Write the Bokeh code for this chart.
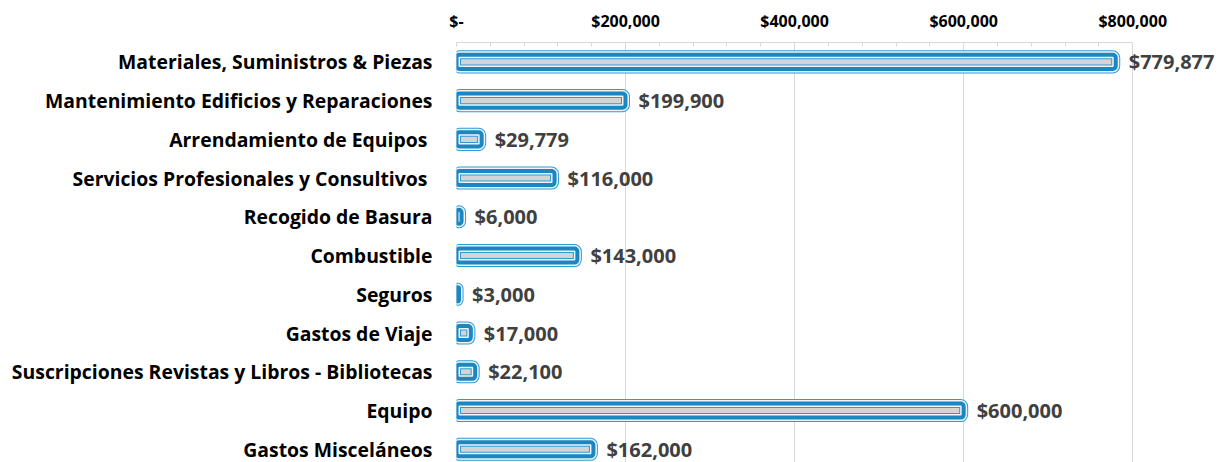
import numpy as np
from bokeh.plotting import figure
from bokeh.models import ColumnDataSource, Range1d, FixedTicker, SingleIntervalTicker, CustomJSTickFormatter, LabelSet
from bokeh.core.properties import value
from bokeh.embed import file_html
from bokeh.resources import INLINE

categories = ["Materiales, Suministros & Piezas", "Mantenimiento Edificios y Reparaciones",
              "Arrendamiento de Equipos ", "Servicios Profesionales y Consultivos ",
              "Recogido de Basura", "Combustible", "Seguros", "Gastos de Viaje",
              "Suscripciones Revistas y Libros - Bibliotecas", "Equipo", "Gastos Misceláneos"]
values = [779877, 199900, 29779, 116000, 6000, 143000, 3000, 17000, 22100, 600000, 162000]
value_labels = ["$" + format(v, ",") for v in values]

n = len(categories)
ypos = list(range(n - 1, -1, -1))
src = ColumnDataSource(dict(y=ypos, v=values, lab=value_labels))

FONT = "Open Sans"
p = figure(width=1221, height=462, output_backend="svg", toolbar_location=None,
           x_range=Range1d(0, 905000), y_range=Range1d(-0.34, 10.5),
           x_axis_location="above", min_border_left=456, min_border_right=0,
           min_border_top=42, min_border_bottom=0)
p.outline_line_color = None

H = 0.362
p.hbar(y="y", right="v", left=0, height=H, source=src, fill_color="#D4D4D4",
       line_color="#2D9CD6", line_width=9, border_radius=3)
p.hbar(y="y", right="v", left=0, height=H, source=src, fill_color=None,
       line_color="#EEF4F8", line_width=7, border_radius=3)
p.hbar(y="y", right="v", left=0, height=H, source=src, fill_color=None,
       line_color="#1B86C0", line_width=4, border_radius=3)

labels = LabelSet(x="v", y="y", text="lab", source=src, x_offset=13, text_baseline="middle",
                  text_font=value(FONT), text_font_style="bold", text_font_size="20px",
                  text_color="#404040")
p.add_layout(labels)

xa = p.xaxis[0]
xa.ticker = SingleIntervalTicker(interval=200000, num_minor_ticks=5)
xa.bounds = (0, 800000)
xa.formatter = CustomJSTickFormatter(code="return tick == 0 ? '$-' : '$' + tick.toLocaleString('en-US');")
xa.axis_line_color = "#D9D9D9"
xa.major_tick_line_color = "#D9D9D9"
xa.minor_tick_line_color = "#D9D9D9"
xa.major_tick_in = 4
xa.major_tick_out = 0
xa.minor_tick_in = 4
xa.minor_tick_out = 0
xa.major_label_standoff = 11
xa.major_label_text_font = FONT
xa.major_label_text_font_style = "bold"
xa.major_label_text_font_size = "16px"
xa.major_label_text_color = "#000000"

ya = p.yaxis[0]
ya.ticker = FixedTicker(ticks=ypos)
ya.major_label_overrides = {y: c for y, c in zip(ypos, categories)}
ya.axis_line_color = None
ya.major_tick_line_color = None
ya.minor_tick_line_color = None
ya.major_label_standoff = 18
ya.major_label_text_font = FONT
ya.major_label_text_font_style = "bold"
ya.major_label_text_font_size = "19.4px"
ya.major_label_text_color = "#000000"

p.xgrid.grid_line_color = "#D9D9D9"
p.xgrid.ticker = SingleIntervalTicker(interval=200000)
p.xgrid.bounds = (0, 800000)
p.ygrid.grid_line_color = None

open("out.html", "w").write(file_html(p, INLINE))
